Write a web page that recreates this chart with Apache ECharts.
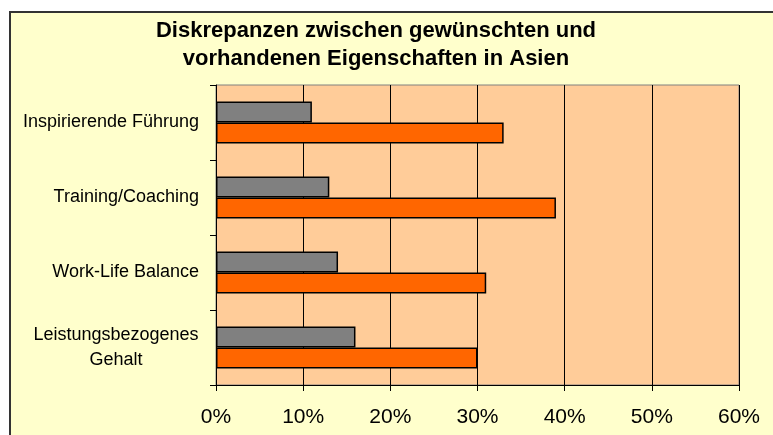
<!DOCTYPE html>
<html>
<head>
<meta charset="utf-8">
<script src="https://cdn.jsdelivr.net/npm/echarts@6/dist/echarts.min.js"></script>
<style>
  html, body { margin: 0; padding: 0; background: #fff; }
  #chart { width: 773px; height: 435px; }
</style>
</head>
<body>
<div id="chart"></div>
<script>
// Werte
const kategorien = ["Inspirierende Führung", "Training/Coaching", "Work-Life Balance", "Leistungsbezogenes\nGehalt"];
const vorhanden = [11, 13, 14, 16];
const gewuenscht = [33, 39, 31, 30];
const achsenTicks = [0, 10, 20, 30, 40, 50, 60];

const myChart = echarts.init(document.getElementById("chart"));

myChart.setOption({
    backgroundColor: "#ffffff",
    animation: false,
    graphic: [{
        type: "rect",
        z: -100,
        shape: { x: 10, y: 12, width: 800, height: 460 },
        style: { fill: "#FFFFCC", stroke: "#333333", lineWidth: 2 }
    }],
    title: {
        text: "Diskrepanzen zwischen gewünschten und\nvorhandenen Eigenschaften in Asien",
        left: 371,
        top: 12,
        textAlign: "center",
        textStyle: {
            fontFamily: "Liberation Sans",
            fontWeight: "bold",
            fontSize: 22,
            lineHeight: 28,
            color: "#000"
        }
    },
    grid: {
        left: 216,
        right: 34,
        top: 85,
        bottom: 50,
        show: true,
        backgroundColor: "#FFCC99",
        borderColor: "#808080",
        borderWidth: 1
    },
    xAxis: {
        type: "value",
        min: achsenTicks[0],
        max: achsenTicks[achsenTicks.length - 1],
        interval: 10,
        axisLine: { show: true, lineStyle: { color: "#000", width: 1 } },
        axisTick: { show: true, length: 6, lineStyle: { color: "#000" } },
        splitLine: { show: true, lineStyle: { color: "#000", width: 1 } },
        axisLabel: {
            formatter: "{value}%",
            fontFamily: "Liberation Sans",
            fontSize: 21,
            color: "#000",
            margin: 22
        }
    },
    yAxis: {
        type: "category",
        data: kategorien,
        inverse: true,
        axisLine: { show: true, lineStyle: { color: "#000", width: 1 } },
        axisTick: { show: true, length: 6, lineStyle: { color: "#000" } },
        axisLabel: {
            fontFamily: "Liberation Sans",
            fontSize: 18,
            lineHeight: 25,
            color: "#000",
            align: "right",
            margin: 17,
            // zweizeilige Beschriftung mittig gesetzt wie im Original
            formatter: (v) => v.indexOf("\n") < 0 ? v : v.split("\n").map(t => "{m|" + t + "}").join("\n"),
            rich: {
                m: {
                    fontFamily: "Liberation Sans",
                    fontSize: 18,
                    lineHeight: 25,
                    color: "#000",
                    width: 166,
                    align: "center"
                }
            }
        }
    },
    series: [
        {
            name: "vorhanden",
            type: "bar",
            data: vorhanden,
            barWidth: 21,
            barGap: "0%",
            itemStyle: { color: "#808080", borderColor: "#000", borderWidth: 1.5 }
        },
        {
            name: "gewünscht",
            type: "bar",
            data: gewuenscht,
            barWidth: 21,
            barGap: "0%",
            itemStyle: { color: "#FF6600", borderColor: "#000", borderWidth: 1.5 }
        }
    ]
});
</script>
</body>
</html>
